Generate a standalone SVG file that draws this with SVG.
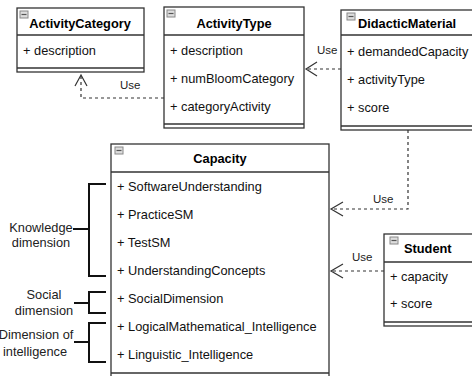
<svg xmlns="http://www.w3.org/2000/svg" width="472" height="376" viewBox="0 0 472 376">
<style>
.box{fill:#fff;stroke:#333;stroke-width:1.3}
.sep{stroke:#333;stroke-width:1.3;fill:none}
.t{font-family:"Liberation Sans",Arial,sans-serif;font-size:12.8px;fill:#111}
.b{font-family:"Liberation Sans",Arial,sans-serif;font-size:12.8px;font-weight:bold;fill:#000}
.u{font-family:"Liberation Sans",Arial,sans-serif;font-size:11.5px;fill:#222}
.lab{font-family:"Liberation Sans",Arial,sans-serif;font-size:12.8px;fill:#222;text-anchor:middle}
.icon{fill:#ddd;stroke:#888;stroke-width:1}
.dash{stroke:#333;stroke-width:1.2;stroke-dasharray:3,3;fill:none}
.arr{stroke:#333;stroke-width:1.2;fill:none}
.br{stroke:#111;stroke-width:2;fill:none}
</style>
<rect width="472" height="376" fill="#fff"/>
<g id="ActivityCategory">
<rect class="box" x="17" y="8" width="127" height="64"/>
<line class="sep" x1="17" y1="35" x2="144" y2="35"/>
<line class="sep" x1="17" y1="68" x2="144" y2="68"/>
<rect class="icon" x="20" y="11" width="8" height="7"/><line x1="21.5" y1="14.5" x2="26.5" y2="14.5" stroke="#555" stroke-width="1.2"/>
<text class="b" x="80" y="28" text-anchor="middle">ActivityCategory</text>
<text class="t" x="23" y="55">+ description</text>
</g>
<g id="ActivityType">
<rect class="box" x="164" y="7" width="140" height="121"/>
<line class="sep" x1="164" y1="35" x2="304" y2="35"/>
<line class="sep" x1="164" y1="124" x2="304" y2="124"/>
<rect class="icon" x="167" y="10" width="8" height="7"/><line x1="168.5" y1="13.5" x2="173.5" y2="13.5" stroke="#555" stroke-width="1.2"/>
<text class="b" x="234" y="28" text-anchor="middle">ActivityType</text>
<text class="t" x="170" y="55">+ description</text>
<text class="t" x="170" y="83">+ numBloomCategory</text>
<text class="t" x="170" y="111">+ categoryActivity</text>
</g>
<g id="DidacticMaterial">
<rect class="box" x="341" y="10" width="140" height="120"/>
<line class="sep" x1="341" y1="35" x2="481" y2="35"/>
<line class="sep" x1="341" y1="126" x2="481" y2="126"/>
<rect class="icon" x="347" y="13" width="8" height="7"/><line x1="348.5" y1="16.5" x2="353.5" y2="16.5" stroke="#555" stroke-width="1.2"/>
<text class="b" x="358" y="28">DidacticMaterial</text>
<text class="t" x="347" y="56">+ demandedCapacity</text>
<text class="t" x="347" y="84">+ activityType</text>
<text class="t" x="347" y="112">+ score</text>
</g>
<g id="Capacity">
<rect class="box" x="111" y="144" width="218" height="240"/>
<line class="sep" x1="111" y1="172" x2="329" y2="172"/>
<line class="sep" x1="111" y1="373" x2="329" y2="373"/>
<rect class="icon" x="115" y="147" width="8" height="7"/><line x1="116.5" y1="150.5" x2="121.5" y2="150.5" stroke="#555" stroke-width="1.2"/>
<text class="b" x="220" y="163" text-anchor="middle">Capacity</text>
<text class="t" x="117" y="191">+ SoftwareUnderstanding</text>
<text class="t" x="117" y="219">+ PracticeSM</text>
<text class="t" x="117" y="247">+ TestSM</text>
<text class="t" x="117" y="275">+ UnderstandingConcepts</text>
<text class="t" x="117" y="303">+ SocialDimension</text>
<text class="t" x="117" y="331">+ LogicalMathematical_Intelligence</text>
<text class="t" x="117" y="359">+ Linguistic_Intelligence</text>
</g>
<g id="Student">
<rect class="box" x="384" y="234" width="97" height="92"/>
<line class="sep" x1="384" y1="262" x2="481" y2="262"/>
<line class="sep" x1="384" y1="322" x2="481" y2="322"/>
<rect class="icon" x="390" y="237" width="8" height="7"/><line x1="391.5" y1="240.5" x2="396.5" y2="240.5" stroke="#555" stroke-width="1.2"/>
<text class="b" x="404" y="253">Student</text>
<text class="t" x="390" y="281">+ capacity</text>
<text class="t" x="390" y="308">+ score</text>
</g>
<g id="connectors">
<path class="dash" d="M341 69 H306"/>
<path class="arr" d="M317 62 L306 69 L317 76"/>
<text class="u" x="317" y="54">Use</text>
<path class="dash" d="M164 98 H81 V75"/>
<path class="arr" d="M75 86 L81 75 L87 86"/>
<text class="u" x="120" y="89">Use</text>
<path class="dash" d="M408 130 V209 H331"/>
<path class="arr" d="M343 202 L331 209 L343 216"/>
<text class="u" x="373" y="203">Use</text>
<path class="dash" d="M384 271 H331"/>
<path class="arr" d="M343 264 L331 271 L343 278"/>
<text class="u" x="352" y="261">Use</text>
</g>
<g id="Knowledge">
<path class="br" d="M106 184 H89 V276 H106 M73 229 H89"/>
<text class="lab" x="41" y="232">Knowledge</text>
<text class="lab" x="41" y="247">dimension</text>
</g>
<g id="Social">
<path class="br" d="M106 292 H89 V313 H106 M74 303 H89"/>
<text class="lab" x="44" y="299">Social</text>
<text class="lab" x="44" y="315">dimension</text>
</g>
<g id="Intelligence">
<path class="br" d="M106 323 H89 V362 H106 M74 342 H89"/>
<text class="lab" x="36" y="339">Dimension of</text>
<text class="lab" x="35" y="356">intelligence</text>
</g>
</svg>
